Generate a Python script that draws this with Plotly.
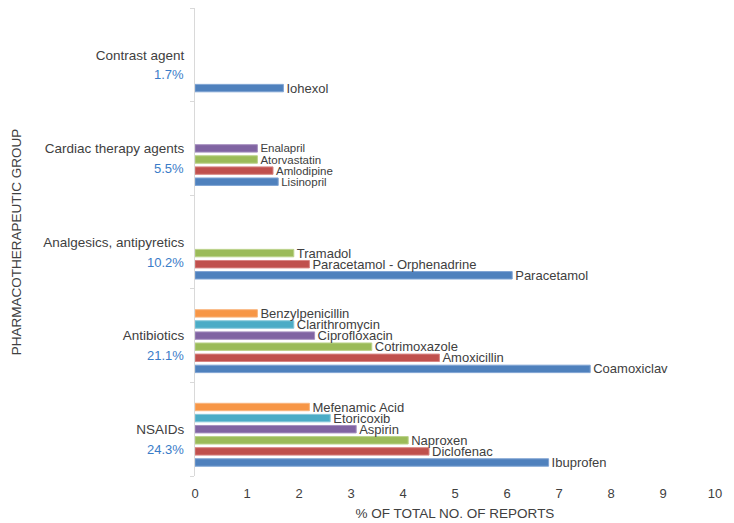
import plotly.graph_objects as go

groups = ["NSAIDs", "Antibiotics", "Analgesics, antipyretics", "Cardiac therapy agents", "Contrast agent"]
group_pct = ["24.3%", "21.1%", "10.2%", "5.5%", "1.7%"]

slot1_names = ["Ibuprofen", "Coamoxiclav", "Paracetamol", "Lisinopril", "Iohexol"]
slot1_vals = [6.8, 7.6, 6.1, 1.6, 1.7]
slot2_names = ["Diclofenac", "Amoxicillin", "Paracetamol - Orphenadrine", "Amlodipine", None]
slot2_vals = [4.5, 4.7, 2.2, 1.5, None]
slot3_names = ["Naproxen", "Cotrimoxazole", "Tramadol", "Atorvastatin", None]
slot3_vals = [4.1, 3.4, 1.9, 1.2, None]
slot4_names = ["Aspirin", "Ciprofloxacin", None, "Enalapril", None]
slot4_vals = [3.1, 2.3, None, 1.2, None]
slot5_names = ["Etoricoxib", "Clarithromycin", None, None, None]
slot5_vals = [2.6, 1.9, None, None, None]
slot6_names = ["Mefenamic Acid", "Benzylpenicillin", None, None, None]
slot6_vals = [2.2, 1.2, None, None, None]
slot7_names = [None, None, None, None, None]
slot7_vals = [None, None, None, None, None]

x_ticks = list(range(0, 11))

slots = [
    (slot1_names, slot1_vals, "#4F81BD", "#7FA3D3"),
    (slot2_names, slot2_vals, "#C0504D", "#D88583"),
    (slot3_names, slot3_vals, "#9BBB59", "#BBD28A"),
    (slot4_names, slot4_vals, "#8064A2", "#A690C0"),
    (slot5_names, slot5_vals, "#4BACC6", "#83C7D9"),
    (slot6_names, slot6_vals, "#F79646", "#F9B57E"),
    (slot7_names, slot7_vals, "#7F7F7F", "#AAAAAA"),
]

FONT = "Liberation Sans, Arial, sans-serif"
fig = go.Figure()
for names, vals, col, edge in slots:
    sizes = [11.5 if g == "Cardiac therapy agents" else 13 for g in groups]
    fig.add_trace(go.Bar(
        y=groups, x=vals, orientation="h",
        text=[n if n else "" for n in names],
        textposition="outside", constraintext="none", cliponaxis=False,
        textfont=dict(family=FONT, size=sizes, color="#404040"),
        marker=dict(color=col, line=dict(color=edge, width=1)),
        showlegend=False, hoverinfo="skip",
    ))

for g, p in zip(groups, group_pct):
    fig.add_annotation(x=-0.018, xref="paper", xanchor="right", y=g, yref="y",
                       yshift=-20, text=p, showarrow=False,
                       font=dict(family=FONT, size=13, color="#3A7CC8"))

fig.update_layout(
    width=734, height=523,
    margin=dict(l=195, r=19, t=8, b=47, autoexpand=False),
    paper_bgcolor="white", plot_bgcolor="white",
    barmode="group", bargap=0.17, bargroupgap=0.33,
    font=dict(family=FONT, color="#404040"),
)
fig.update_xaxes(range=[0, 10], tickvals=x_ticks, showgrid=False, zeroline=False,
                 showline=False, automargin=False, tickfont=dict(size=13, color="#404040"),
                 ticklabelstandoff=8,
                 title=dict(text="% OF TOTAL NO. OF REPORTS", font=dict(size=13.5, color="#404040"), standoff=8))
fig.update_yaxes(type="category", categoryorder="array", categoryarray=groups,
                 showline=True, linecolor="#D9D9D9", linewidth=1, automargin=False,
                 ticks="outside", tickson="boundaries", ticklen=4, tickcolor="#D9D9D9",
                 showgrid=False, tickfont=dict(size=13.5, color="#404040"),
                 ticklabelstandoff=7,
                 title=dict(text="PHARMACOTHERAPEUTIC GROUP", font=dict(size=13.5, color="#404040"), standoff=18))

fig.write_html("out.html", config={"displayModeBar": False},
               post_script="document.body.style.margin='0';")
